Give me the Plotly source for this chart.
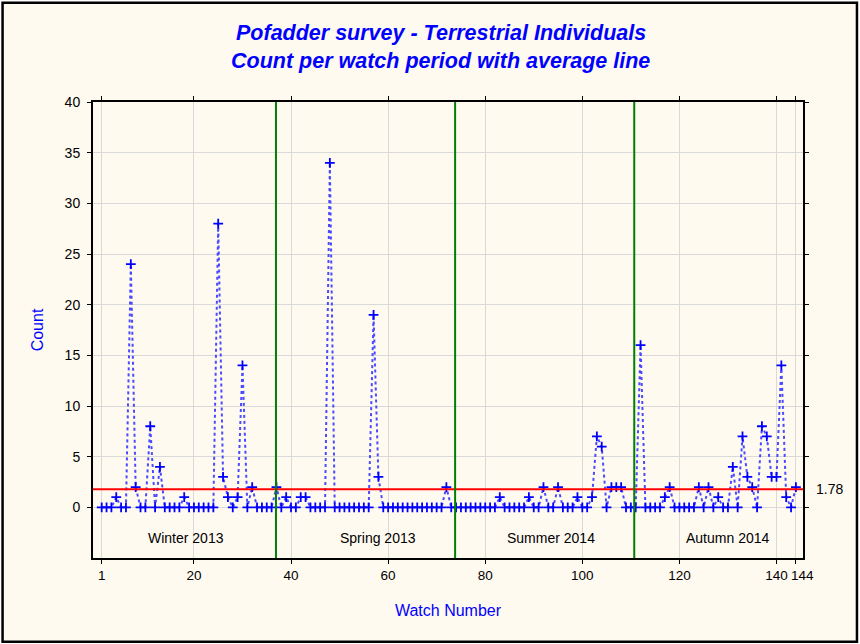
import plotly.graph_objects as go

# ---- data ----
watch = list(range(1, 145))
nonzero = {4: 1, 7: 24, 8: 2, 11: 8, 13: 4, 18: 1, 25: 28, 26: 3, 27: 1, 29: 1, 30: 14,
           32: 2, 37: 2, 39: 1, 42: 1, 43: 1, 48: 34, 57: 19, 58: 3, 72: 2, 83: 1,
           89: 1, 92: 2, 95: 2, 99: 1, 102: 1, 103: 7, 104: 6, 106: 2, 107: 2, 108: 2,
           112: 16, 117: 1, 118: 2, 124: 2, 126: 2, 128: 1, 131: 4, 133: 7, 134: 3,
           135: 2, 137: 8, 138: 7, 139: 3, 140: 3, 141: 14, 142: 1, 144: 2}
counts = [nonzero.get(w, 0) for w in watch]
average = 1.78
season_bounds = [36.9, 73.8, 110.7]
season_names = ["Winter 2013", "Spring 2013", "Summer 2014", "Autumn 2014"]
season_label_x = [18.4, 58.0, 93.5, 130.0]
x_tickvals = [1, 20, 40, 60, 80, 100, 120, 140, 144]
y_tickvals = [0, 5, 10, 15, 20, 25, 30, 35, 40]

XR = [-0.79, 145.46]
YR = [-5, 40]

FONT = "Liberation Sans, Arial, sans-serif"

fig = go.Figure()
fig.add_trace(go.Scatter(
    x=watch, y=counts, mode="lines+markers",
    line=dict(color="#4a4aff", width=2, dash="dot"),
    marker=dict(symbol="cross-thin", size=7, line=dict(color="#0000ff", width=1.8)),
    showlegend=False, hoverinfo="x+y"))

# average line
fig.add_trace(go.Scatter(x=XR, y=[average, average], mode="lines",
                         line=dict(color="#ff0000", width=2), showlegend=False))

shapes = []
L, R, T, B = 93, 803.5, 101.7, 557.7
pw, ph = R - L, B - T
def px_x(p): return (p - L) / pw
def px_y(p): return (B - p) / ph
shapes.append(dict(type="rect", xref="paper", yref="paper",
                   x0=px_x(2.5), x1=px_x(857.5), y0=px_y(641.5), y1=px_y(2.5),
                   line=dict(color="black", width=2.5), fillcolor="#fffaf0", layer="below"))
for b in season_bounds:
    shapes.append(dict(type="line", xref="x", yref="paper", x0=b, x1=b, y0=0, y1=1,
                       line=dict(color="#008000", width=2)))

annotations = []
for name, lx in zip(season_names, season_label_x):
    annotations.append(dict(x=lx, y=-3.0, xref="x", yref="y", text=name, showarrow=False,
                            font=dict(family=FONT, size=14, color="black")))
annotations.append(dict(x=px_x(815), y=average, xref="paper", yref="y", text=f"{average:.2f}",
                        showarrow=False, xanchor="left",
                        font=dict(family=FONT, size=14, color="black")))
annotations.append(dict(x=px_x(441), y=px_y(33), xref="paper", yref="paper",
                        text="<b><i>Pofadder survey - Terrestrial Individuals</i></b>",
                        showarrow=False, xanchor="center", yanchor="middle",
                        font=dict(family=FONT, size=21.5, color="#0000ff")))
annotations.append(dict(x=px_x(441), y=px_y(61), xref="paper", yref="paper",
                        text="<b><i>Count per watch period with average line</i></b>",
                        showarrow=False, xanchor="center", yanchor="middle",
                        font=dict(family=FONT, size=21.5, color="#0000ff")))
# last x label placed just right of its tick so it does not collide with "140"
annotations.append(dict(x=x_tickvals[-1], y=0, xref="x", yref="paper", text=str(x_tickvals[-1]),
                        showarrow=False, xanchor="center", yanchor="top", xshift=7, yshift=-8,
                        font=dict(family=FONT, size=13.5, color="black")))

fig.update_layout(
    width=860, height=644,
    margin=dict(l=L, r=860 - R, t=T, b=644 - B),
    paper_bgcolor="white", plot_bgcolor="white",
    shapes=shapes, annotations=annotations,
    font=dict(family=FONT, size=14, color="black"),
)
fig.update_xaxes(range=XR, tickvals=x_tickvals,
                 ticktext=[str(v) for v in x_tickvals[:-1]] + [""],
                 tickangle=0, tickfont=dict(size=13.5),
                 showgrid=True, gridcolor="#d9d9d9", gridwidth=1, zeroline=False,
                 showline=True, linecolor="black", linewidth=2, mirror="ticks",
                 ticks="outside", ticklen=4, tickcolor="black", ticklabelstandoff=0,
                 title=dict(text="Watch Number", font=dict(family=FONT, color="#0000ff", size=16), standoff=23))
fig.update_yaxes(range=YR, tickvals=y_tickvals, ticktext=[str(v) for v in y_tickvals],
                 showgrid=True, gridcolor="#d9d9d9", gridwidth=1, zeroline=False,
                 showline=True, linecolor="black", linewidth=2, mirror="ticks",
                 ticks="outside", ticklen=4, tickcolor="black", ticklabelstandoff=4,
                 title=dict(text="Count", font=dict(family=FONT, color="#0000ff", size=16), standoff=17))

fig.write_html("out.html", post_script="document.body.style.margin='0';",
               config={"displayModeBar": False})
